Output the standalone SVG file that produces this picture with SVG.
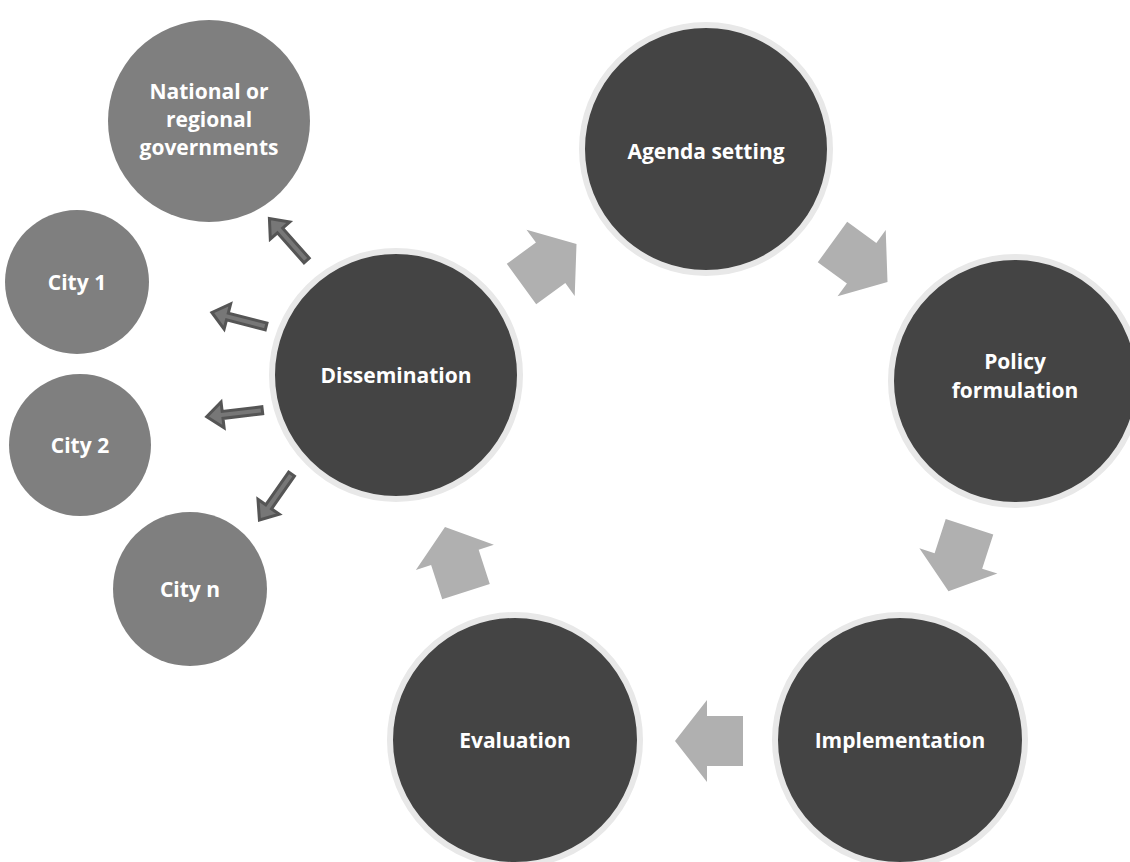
<svg xmlns="http://www.w3.org/2000/svg" width="1130" height="862" viewBox="0 0 1130 862">
<style>
  .big { fill: #444444; stroke: #e8e8e8; stroke-width: 6; }
  .mid { fill: #7f7f7f; }
  .lbl { font-family: "Open Sans", "Liberation Sans", sans-serif; font-weight: bold; font-size: 21px; fill: #ffffff; text-anchor: middle; }
  .barrow { fill: #b0b0b0; }
  .sarrow { fill: #777777; stroke: #555555; stroke-width: 3; stroke-linejoin: miter; }
</style>
<defs>
  <path id="bigArrow" d="M -34 -25 L 2 -25 L 2 -41 L 34 0 L 2 41 L 2 25 L -34 25 Z"/>
  <path id="smallArrow" d="M -28 -3.5 L 12 -3.5 L 12 -13 L 28 0 L 12 13 L 12 3.5 L -28 3.5 Z"/>
</defs>
<rect width="1130" height="862" fill="#ffffff"/>
<g id="connectors">
  <use href="#bigArrow" class="barrow" transform="translate(549,264) rotate(-36)"/>
  <use href="#bigArrow" class="barrow" transform="translate(860,262) rotate(36)"/>
  <use href="#bigArrow" class="barrow" transform="translate(959,559) rotate(108)"/>
  <use href="#bigArrow" class="barrow" transform="translate(709,741) rotate(180)"/>
  <use href="#bigArrow" class="barrow" transform="translate(455.5,559.3) rotate(252)"/>
  <use href="#smallArrow" class="sarrow" transform="translate(288,239.5) rotate(228.4)"/>
  <use href="#smallArrow" class="sarrow" transform="translate(239,319.5) rotate(194.5)"/>
  <use href="#smallArrow" class="sarrow" transform="translate(234.5,413.5) rotate(173.2)"/>
  <use href="#smallArrow" class="sarrow" transform="translate(275.5,497) rotate(125)"/>
</g>
<g id="agenda">
  <circle class="big" cx="706" cy="149" r="124"/>
  <text class="lbl" x="706" y="159">Agenda setting</text>
</g>
<g id="policy">
  <circle class="big" cx="1015" cy="381" r="124"/>
  <text class="lbl" x="1015" y="369">Policy</text>
  <text class="lbl" x="1015" y="398">formulation</text>
</g>
<g id="implementation">
  <circle class="big" cx="900" cy="740" r="125"/>
  <text class="lbl" x="900" y="748">Implementation</text>
</g>
<g id="evaluation">
  <circle class="big" cx="515" cy="740" r="125"/>
  <text class="lbl" x="515" y="748">Evaluation</text>
</g>
<g id="dissemination">
  <circle class="big" cx="396" cy="375" r="124"/>
  <text class="lbl" x="396" y="383">Dissemination</text>
</g>
<g id="national">
  <circle class="mid" cx="209" cy="121" r="101"/>
  <text class="lbl" x="209" y="99">National or</text>
  <text class="lbl" x="209" y="127">regional</text>
  <text class="lbl" x="209" y="155">governments</text>
</g>
<g id="city1">
  <circle class="mid" cx="77" cy="282" r="72"/>
  <text class="lbl" x="77" y="290">City 1</text>
</g>
<g id="city2">
  <circle class="mid" cx="80" cy="445" r="71"/>
  <text class="lbl" x="80" y="453">City 2</text>
</g>
<g id="cityn">
  <circle class="mid" cx="190" cy="589" r="77"/>
  <text class="lbl" x="190" y="597">City n</text>
</g>
</svg>
